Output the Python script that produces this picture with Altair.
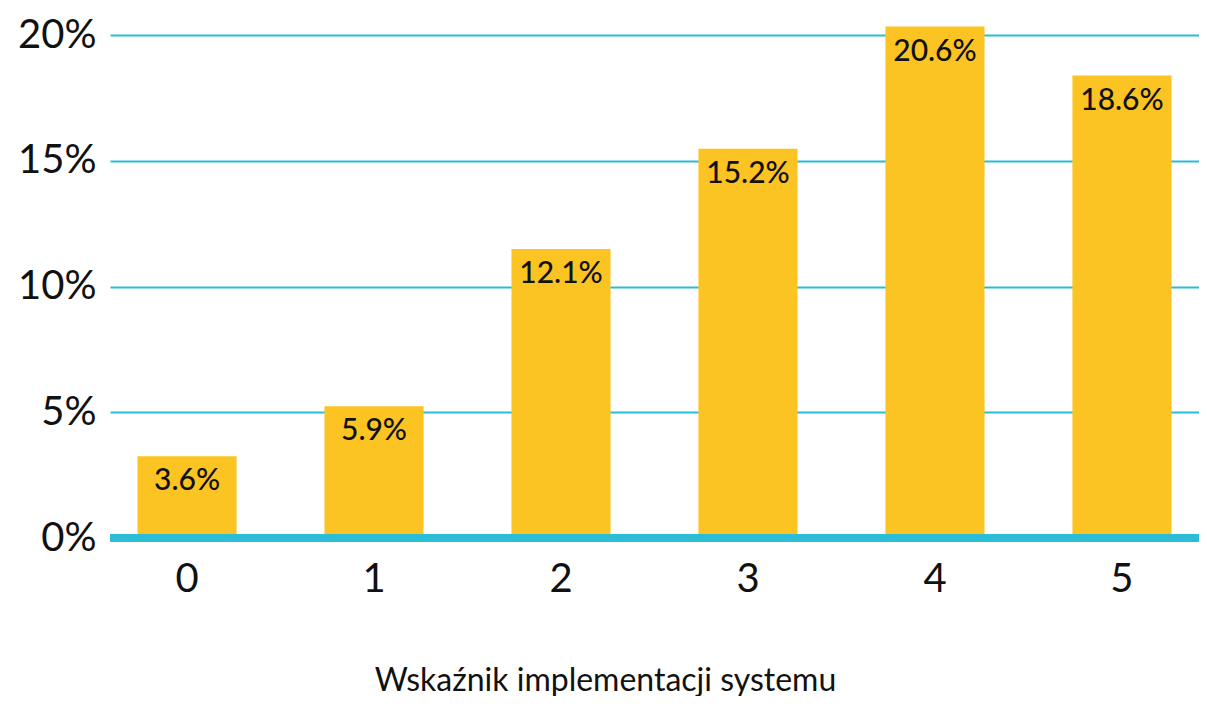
import altair as alt
import pandas as pd

categories = ["0", "1", "2", "3", "4", "5"]
bar_heights = [3.25, 5.24, 11.49, 15.48, 20.34, 18.39]
bar_labels = ["3.6%", "5.9%", "12.1%", "15.2%", "20.6%", "18.6%"]
y_ticks = [0, 5, 10, 15, 20]
x_title = "Wskaźnik implementacji systemu"

df = pd.DataFrame({"cat": categories, "val": bar_heights, "lab": bar_labels})

FONT = "Lato"
CYAN = "#2BBCD8"
YELLOW = "#FBC422"

x_enc = alt.X(
    "cat:N",
    sort=categories,
    scale=alt.Scale(paddingInner=0.47, paddingOuter=0.147),
    axis=alt.Axis(
        title=x_title,
        labelAngle=0,
        labelFontSize=40,
        labelFont=FONT,
        labelColor="#111111",
        labelPadding=21,
        titleFont=FONT,
        titleFontSize=32,
        titleFontWeight="normal",
        titleColor="#111111",
        titleBaseline="alphabetic",
        titleAlign="center",
        titleX=495,
        titleY=152,
        domain=False,
        ticks=False,
    ),
)
y_scale = alt.Scale(domain=[0, 20.6], nice=False)
y_enc = alt.Y(
    "val:Q",
    scale=y_scale,
    axis=alt.Axis(
        title=None,
        values=y_ticks,
        labelExpr="datum.value + '%'",
        labelFontSize=40,
        labelFont=FONT,
        labelColor="#111111",
        labelPadding=14,
        gridColor=CYAN,
        gridWidth=2,
        gridOpacity=1,
        domain=False,
        ticks=False,
    ),
)

bars = alt.Chart(df).mark_bar(color=YELLOW).encode(x=x_enc, y=y_enc)

texts = alt.Chart(df).mark_text(
    font=FONT, fontSize=30, fontWeight=500, color="#111111", baseline="middle", align="center", dy=25
).encode(x=alt.X("cat:N", sort=categories), y=alt.Y("val:Q", scale=y_scale), text="lab:N")

base_rule = alt.Chart(pd.DataFrame({"z": [0]})).mark_rule(color=CYAN, strokeWidth=8).encode(
    y=alt.Y("z:Q", scale=y_scale)
)

chart = (
    alt.layer(bars, texts, base_rule)
    .properties(
        width=1089,
        height=518,
        autosize=alt.AutoSizeParams(type="none"),
        padding={"left": 102, "top": 12, "right": 0, "bottom": 158},
    )
    .configure_view(stroke=None)
)

chart.save("out.html", embed_options={"renderer": "svg", "actions": False})
